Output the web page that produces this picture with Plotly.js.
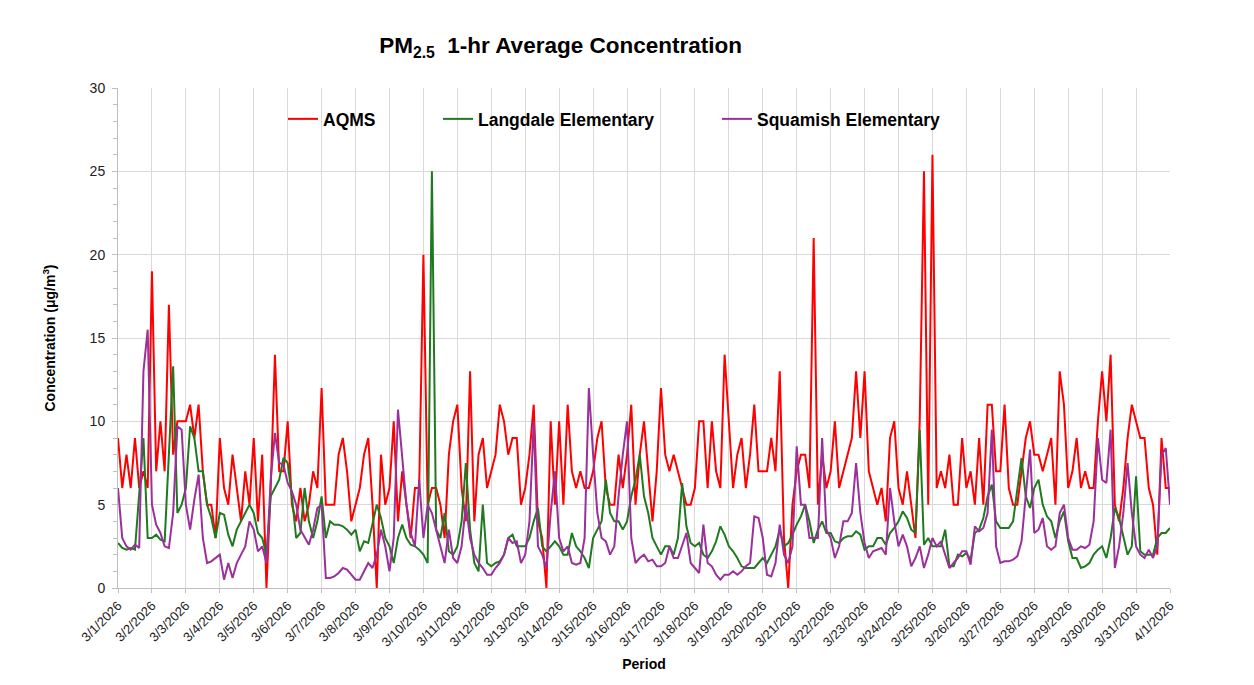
<!DOCTYPE html>
<html>
<head>
<meta charset="utf-8">
<script src="https://cdn.plot.ly/plotly-3.0.1.min.js"></script>
<style>
html,body{margin:0;padding:0;background:#fff;}
#chart{width:1254px;height:685px;}
</style>
</head>
<body>
<div id="chart"></div>
<script>
// Period: 3/1/2026 00:00 to 4/1/2026 00:00, one reading every 3 hours
const startTime = '2026-03-01T00:00:00Z';
const stepHours = 3;

const seriesNames = ['AQMS', 'Langdale Elementary', 'Squamish Elementary'];

// AQMS (µg/m³), 8 readings per day
const aqms = [
  9, 6, 8, 6, 9, 6, 7, 6,
  19, 7, 10, 7, 17, 8, 10, 10,
  10, 11, 9, 11, 7, 5, 5, 3,
  9, 6, 5, 8, 6, 4, 7, 5,
  9, 4, 8, 0, 6, 14, 7, 7,
  10, 5, 4, 6, 4, 5, 7, 6,
  12, 5, 5, 5, 8, 9, 7, 4,
  5, 6, 8, 9, 5, 0, 8, 5,
  6, 10, 4, 7, 5, 3, 6, 6,
  20, 5, 6, 6, 5, 3, 8, 10,
  11, 6, 4, 13, 4, 8, 9, 6,
  7, 8, 11, 10, 8, 9, 9, 5,
  6, 8, 11, 4, 3, 0, 10, 5,
  10, 5, 11, 7, 6, 7, 6, 6,
  7, 9, 10, 6, 5, 5, 8, 6,
  8, 11, 5, 8, 10, 7, 4, 7,
  12, 8, 7, 8, 7, 6, 5, 5,
  6, 10, 10, 6, 10, 7, 6, 14,
  10, 6, 8, 9, 6, 8, 11, 7,
  7, 7, 9, 7, 13, 3, 0, 5,
  7, 8, 8, 6, 21, 5, 8, 6,
  7, 10, 6, 7, 8, 9, 13, 9,
  13, 7, 6, 5, 6, 4, 9, 10,
  6, 5, 7, 5, 3, 10, 25, 5,
  26, 6, 7, 6, 8, 5, 5, 9,
  6, 7, 5, 9, 5, 11, 11, 7,
  7, 11, 6, 5, 5, 7, 9, 10,
  8, 8, 7, 8, 9, 5, 13, 11,
  6, 7, 9, 6, 7, 6, 6, 10,
  13, 10, 14, 5, 4, 6, 9, 11,
  10, 9, 9, 6, 5, 2, 9, 6,
  6
];

// Langdale Elementary
const langdale = [
  2.7, 2.4, 2.3, 2.4, 2.3, 5.5, 9, 3,
  3, 3.2, 2.9, 2.8, 8.5, 13.3, 4.5, 5,
  6, 9.7, 9, 7, 7, 5, 4.2, 3,
  4.5, 4.4, 3.2, 2.5, 3.5, 4, 4.5, 5,
  4.5, 3.3, 3, 2, 5.5, 6, 6.5, 7.8,
  7.5, 5.5, 3, 3.3, 6, 4, 3, 4,
  5.5, 3, 4, 3.8, 3.8, 3.7, 3.5, 3.2,
  3.5, 2.2, 2.8, 2.7, 3.8, 5, 4.2, 3,
  2.5, 1.5, 3, 3.8, 3, 2.6, 2.5, 2.3,
  2, 1.5, 25, 3.5, 3, 4.5, 2.2, 2,
  2.5, 4, 7.5, 3.5, 1.5, 1, 5, 1.5,
  1.3, 1.5, 1.6, 2, 3, 3.2, 2.5, 2.5,
  2.5, 3, 4, 4.8, 2.5, 2.2, 2.5, 2.8,
  2.5, 2, 2, 3.3, 2.5, 2.2, 1.8, 1.2,
  3, 3.5, 4, 6.5, 4.5, 4, 4, 3.5,
  4, 5.5, 6.5, 8, 5.5, 4.5, 3, 2.5,
  2, 2.5, 2.5, 2, 3, 6.3, 3.7, 2.7,
  2.5, 2.7, 2, 1.8, 2.2, 2.8, 3.7, 3.2,
  2.5, 2.2, 1.8, 1.3, 1.2, 1.2, 1.2, 1.5,
  1.8, 1.5, 2, 2.5, 3.5, 2.5, 2.7, 3.2,
  3.8, 4.3, 5, 4, 2.7, 3.5, 4, 3.3,
  3.3, 2.8, 2.7, 3, 3.1, 3.1, 3.4, 3.2,
  2.3, 2.5, 2.5, 3, 3, 2.6, 3.3, 3.6,
  4, 4.6, 4.2, 3.5, 3.3, 9.5, 2.6, 3,
  2.5, 2.5, 2.5, 3.5, 1.3, 1.3, 2, 1.9,
  2.1, 1.7, 3.3, 3.5, 4.2, 5.5, 6.2, 4,
  3.6, 3.6, 3.6, 4, 5.8, 7.8, 5.5, 4.8,
  6, 6.5, 5, 4.3, 4, 3, 4, 4.6,
  2.8, 1.8, 1.8, 1.2, 1.3, 1.5, 2, 2.3,
  2.5, 1.8, 3, 4.8, 4.2, 3, 2, 2.5,
  6.7, 2.2, 2, 2, 2, 3, 3.3, 3.3,
  3.6
];

// Squamish Elementary
const squamish = [
  6, 3, 2.5, 2.3, 2.6, 2.4, 13, 15.5,
  5, 3.8, 3.3, 2.5, 2.4, 4.5, 9.7, 9.5,
  5, 3.5, 5.3, 6.8, 3, 1.5, 1.6, 1.8,
  2, 0.5, 1.5, 0.6, 1.5, 2, 2.5, 4,
  3.5, 2.2, 2.5, 1.5, 6.5, 9.3, 7.5, 7.4,
  6.3, 5.8, 5, 3.5, 3, 2.6, 3.5, 4.8,
  5, 0.6, 0.6, 0.7, 0.9, 1.2, 1.1, 0.8,
  0.5, 0.5, 1, 1.5, 1.2, 2, 3.5, 2.5,
  1, 3, 10.7, 8, 5, 3.3, 2.5, 6.5,
  3, 5, 4.5, 3.5, 2.5, 1.5, 3.5, 1.8,
  1.5, 2.5, 5, 3, 2, 1.5, 1.2, 0.8,
  0.8, 1.2, 1.5, 2, 3, 2.7, 2.8, 1.5,
  2, 4, 10, 2.5, 2, 1.2, 4.5, 7,
  3, 2.2, 2.5, 1.5, 1.4, 1.5, 3, 12,
  8, 4.5, 3, 2.8, 2, 2.5, 5.5, 8,
  10, 3, 1.5, 1.8, 2, 1.6, 1.7, 1.3,
  1.3, 1.5, 2.5, 1.8, 1.8, 2.5, 3.3, 1.5,
  1.2, 0.9, 3.8, 1.5, 1.3, 0.8, 0.5, 0.8,
  0.8, 1, 0.8, 1, 1.3, 1.5, 4.3, 4.2,
  3, 0.8, 0.7, 1.5, 3.8, 2, 1.5, 2.5,
  8.5, 5, 5, 3, 3, 3, 9, 3.5,
  3, 1.8, 2.5, 4, 4, 4.5, 7.5, 4.5,
  2.7, 1.8, 2.2, 2.3, 2.4, 2, 6, 4,
  2.5, 3.2, 2.5, 1.3, 1.8, 2.5, 1.2, 2,
  3, 2.5, 2.8, 2, 1.2, 1.5, 1.8, 2.2,
  2.2, 1.4, 3.7, 3.4, 3.6, 4.5, 9.5, 2.5,
  1.5, 1.6, 1.6, 1.7, 1.9, 2.8, 5.5, 8.3,
  3.3, 3.5, 4.2, 2.5, 2.3, 2.5, 4.5, 5,
  3, 2.3, 2.3, 2.5, 2.4, 2.6, 4, 9,
  6.5, 6.3, 9.5, 1.2, 2.5, 4.5, 7.5, 4.5,
  2.5, 2, 1.8, 2.3, 1.8, 2.5, 8, 8.4,
  5
];

const seriesColors = ['#ff0000', '#1f7a1f', '#9b309b'];

function timeAxis(n) {
  const t0 = Date.parse(startTime);
  const out = [];
  for (let i = 0; i < n; i++) {
    const d = new Date(t0 + i * stepHours * 3600000);
    const p = v => String(v).padStart(2, '0');
    out.push(d.getUTCFullYear() + '-' + p(d.getUTCMonth() + 1) + '-' + p(d.getUTCDate()) + ' ' + p(d.getUTCHours()) + ':00');
  }
  return out;
}

const allSeries = [aqms, langdale, squamish];
const legendIds = ['legend', 'legend2', 'legend3'];
const traces = allSeries.map((vals, i) => ({
  type: 'scatter',
  mode: 'lines',
  name: seriesNames[i],
  x: timeAxis(vals.length),
  y: vals,
  line: {color: seriesColors[i], width: 2},
  legend: legendIds[i],
  hoverinfo: 'x+y+name'
}));

const legendFont = {family: 'Liberation Sans, Arial, sans-serif', size: 17.5, color: '#000', weight: 700};
function legendAt(px) {
  return {
    x: (px - 118) / 1052, xanchor: 'left',
    y: 0.938, yanchor: 'middle',
    orientation: 'h',
    bgcolor: 'rgba(0,0,0,0)', borderwidth: 0,
    font: legendFont
  };
}

const layout = {
  width: 1254,
  height: 685,
  paper_bgcolor: '#ffffff',
  plot_bgcolor: '#ffffff',
  margin: {l: 118, r: 84, t: 88, b: 97},
  showlegend: true,
  font: {family: 'Liberation Sans, Arial, sans-serif', color: '#000'},
  title: {
    text: 'PM<sub>2.5</sub>  1-hr Average Concentration',
    font: {family: 'Liberation Sans, Arial, sans-serif', size: 22.5, color: '#000', weight: 700},
    xref: 'container', x: 0.447, xanchor: 'center',
    yref: 'container', y: 0.934, yanchor: 'middle'
  },
  legend: legendAt(283),
  legend2: legendAt(438),
  legend3: legendAt(717),
  xaxis: {
    type: 'date',
    range: ['2026-03-01 00:00', '2026-04-01 00:00'],
    tick0: '2026-03-01',
    dtick: 86400000,
    tickformat: '%-m/%-d/%Y',
    tickangle: -45,
    tickfont: {size: 13, color: '#222'},
    showgrid: true,
    gridcolor: '#d9d9d9',
    gridwidth: 1,
    showline: true,
    linecolor: '#bfbfbf',
    linewidth: 1,
    ticks: 'outside',
    ticklen: 4,
    tickcolor: '#bfbfbf',
    zeroline: false,
    automargin: false,
    title: {text: 'Period', font: {size: 14, color: '#000', weight: 700}, standoff: 10}
  },
  yaxis: {
    range: [0, 30],
    tick0: 0,
    dtick: 5,
    tickfont: {size: 14, color: '#222'},
    ticklabelstandoff: 4,
    showgrid: true,
    gridcolor: '#d9d9d9',
    gridwidth: 1,
    showline: true,
    linecolor: '#bfbfbf',
    linewidth: 1,
    ticks: 'outside',
    ticklen: 5,
    tickcolor: '#bfbfbf',
    minor: {dtick: 1, ticks: 'outside', ticklen: 4, tickcolor: '#bfbfbf', showgrid: false},
    zeroline: false,
    automargin: false,
    title: {text: 'Concentration (μg/m<sup>3</sup>)', font: {size: 14, color: '#000', weight: 700}, standoff: 30}
  }
};

Plotly.newPlot('chart', traces, layout, {displayModeBar: false, responsive: false});
</script>
</body>
</html>
